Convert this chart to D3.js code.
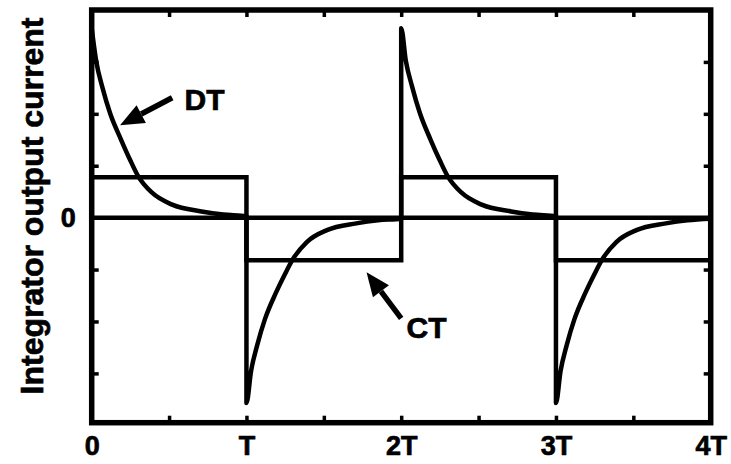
<!DOCTYPE html>
<html>
<head>
<meta charset="utf-8">
<script src="https://cdn.jsdelivr.net/npm/d3@7"></script>
<style>
  body { margin: 0; background: #fff; }
  text { font-family: "Liberation Sans", Arial, Helvetica, sans-serif; font-weight: bold; fill: #000; stroke: #000; stroke-width: 0.7px; }
</style>
</head>
<body>
<script>
// x in units of the period T, y in arbitrary current units
var periodLabels = ["0", "T", "2T", "3T", "4T"];
var periodTicks = [0, 1, 2, 3, 4];
var halfTicks = [0.5, 1, 1.5, 2, 2.5, 3, 3.5];
var yTicks = [-3, -2, -1, 1, 2, 3];

// continuous-time integrator: square wave
var ctTime  = [0, 1, 1, 2, 2, 3, 3, 4];
var ctValue = [0.78, 0.78, -0.82, -0.82, 0.78, 0.78, -0.82, -0.82];

// discrete-time integrator: one decaying pulse per period
var dtOffset = [0, 0.03, 0.07, 0.12, 0.19, 0.25, 0.30, 0.39, 0.52, 0.71, 0.85, 1.0];
var dtSeg0 = [3.65, 3.0, 2.5, 2.0, 1.5, 1.1, 0.8, 0.48, 0.25, 0.12, 0.06, 0.03];
var dtSeg1 = [-3.57, -2.95, -2.45, -1.95, -1.45, -1.08, -0.8, -0.47, -0.24, -0.11, -0.05, -0.02];
var dtSeg2 = [3.65, 3.02, 2.53, 2.02, 1.5, 1.1, 0.8, 0.48, 0.25, 0.12, 0.06, 0.03];
var dtSeg3 = [-3.57, -2.95, -2.45, -1.95, -1.45, -1.08, -0.8, -0.47, -0.24, -0.11, -0.05, -0.02];

var annotations = [
  {label: "DT", tip: [0.183, 1.78], tail: [0.52, 2.31], text: [0.6, 2.07]},
  {label: "CT", tip: [1.776, -1.05], tail: [2.0, -1.94], text: [2.035, -2.32]}
];

var width = 731, height = 464;
var margin = {top: 10, right: 20.3, bottom: 41.3, left: 91.7};

var xScale = d3.scaleLinear().domain([0, 4]).range([margin.left, width - margin.right]);
var yScale = d3.scaleLinear().domain([-3.95, 4]).range([height - margin.bottom, margin.top]);

var svg = d3.select("body").append("svg")
    .attr("width", width)
    .attr("height", height);

var line = d3.line()
    .x(function(d) { return xScale(d.x); })
    .y(function(d) { return yScale(d.y); });

// zero line
svg.append("path")
    .attr("fill", "none").attr("stroke", "#000").attr("stroke-width", 4.5)
    .attr("d", line([{x: 0, y: 0}, {x: 4, y: 0}]));

// CT square wave
var ctData = ctTime.map(function(t, i) { return {x: t, y: ctValue[i]}; });
svg.append("path")
    .attr("fill", "none").attr("stroke", "#000").attr("stroke-width", 4.5)
    .attr("stroke-linejoin", "miter")
    .attr("d", line(ctData));

// DT pulses joined into one path
var dtData = [];
[dtSeg0, dtSeg1, dtSeg2, dtSeg3].forEach(function(seg, k) {
  seg.forEach(function(v, i) { dtData.push({x: k + dtOffset[i], y: v}); });
});
svg.append("path")
    .attr("fill", "none").attr("stroke", "#000").attr("stroke-width", 4.5)
    .attr("stroke-linejoin", "round")
    .attr("d", line.curve(d3.curveMonotoneX)(dtData));
line.curve(d3.curveLinear);

// inward minor ticks on all four sides
var tickLen = 7;
function styleTicks(g) {
  g.select(".domain").remove();
  g.selectAll("line").attr("stroke", "#000").attr("stroke-width", 3.5);
}
svg.append("g")
    .attr("transform", "translate(0," + yScale.range()[0] + ")")
    .call(d3.axisBottom(xScale).tickValues(halfTicks).tickSize(-tickLen).tickFormat(""))
    .call(styleTicks);
svg.append("g")
    .attr("transform", "translate(0," + yScale.range()[1] + ")")
    .call(d3.axisTop(xScale).tickValues(halfTicks).tickSize(-tickLen).tickFormat(""))
    .call(styleTicks);
svg.append("g")
    .attr("transform", "translate(" + xScale.range()[0] + ",0)")
    .call(d3.axisLeft(yScale).tickValues(yTicks).tickSize(-tickLen).tickFormat(""))
    .call(styleTicks);
svg.append("g")
    .attr("transform", "translate(" + xScale.range()[1] + ",0)")
    .call(d3.axisRight(yScale).tickValues(yTicks).tickSize(-tickLen).tickFormat(""))
    .call(styleTicks);

// frame
svg.append("rect")
    .attr("x", xScale.range()[0]).attr("y", yScale.range()[1])
    .attr("width", xScale.range()[1] - xScale.range()[0])
    .attr("height", yScale.range()[0] - yScale.range()[1])
    .attr("fill", "none").attr("stroke", "#000").attr("stroke-width", 5.5);

// x tick labels
var xAxis = svg.append("g")
    .attr("transform", "translate(0," + yScale.range()[0] + ")")
    .call(d3.axisBottom(xScale).tickValues(periodTicks).tickSize(0).tickPadding(13)
      .tickFormat(function(d, i) { return periodLabels[i]; }));
xAxis.select(".domain").remove();
xAxis.selectAll("text").style("font-size", "27px").attr("dy", "0.71em");

// y tick label (only the zero)
var yAxis = svg.append("g")
    .attr("transform", "translate(" + xScale.range()[0] + ",0)")
    .call(d3.axisLeft(yScale).tickValues([0]).tickSize(0).tickPadding(16).tickFormat(d3.format("d")));
yAxis.select(".domain").remove();
yAxis.selectAll("text").style("font-size", "27px");

// y axis title
svg.append("text")
    .attr("transform", "translate(43," + 206 + ") rotate(-90)")
    .style("text-anchor", "middle")
    .style("font-size", "32px")
    .text("Integrator output current");

// annotation arrows + labels
annotations.forEach(function(a) {
  var x0 = xScale(a.tail[0]), y0 = yScale(a.tail[1]);
  var x1 = xScale(a.tip[0]), y1 = yScale(a.tip[1]);
  var ang = Math.atan2(y1 - y0, x1 - x0);
  var headLen = 24, headW = 10;
  var bx = x1 - headLen * Math.cos(ang), by = y1 - headLen * Math.sin(ang);
  svg.append("line")
      .attr("x1", x0).attr("y1", y0).attr("x2", bx).attr("y2", by)
      .attr("stroke", "#000").attr("stroke-width", 5.5);
  svg.append("path")
      .attr("fill", "#000")
      .attr("d", "M" + x1 + "," + y1 +
        "L" + (bx + headW * Math.sin(ang)) + "," + (by - headW * Math.cos(ang)) +
        "L" + (bx - headW * Math.sin(ang)) + "," + (by + headW * Math.cos(ang)) + "Z");
  svg.append("text")
      .attr("x", xScale(a.text[0])).attr("y", yScale(a.text[1]))
      .style("font-size", "30px")
      .text(a.label);
});
</script>
</body>
</html>
